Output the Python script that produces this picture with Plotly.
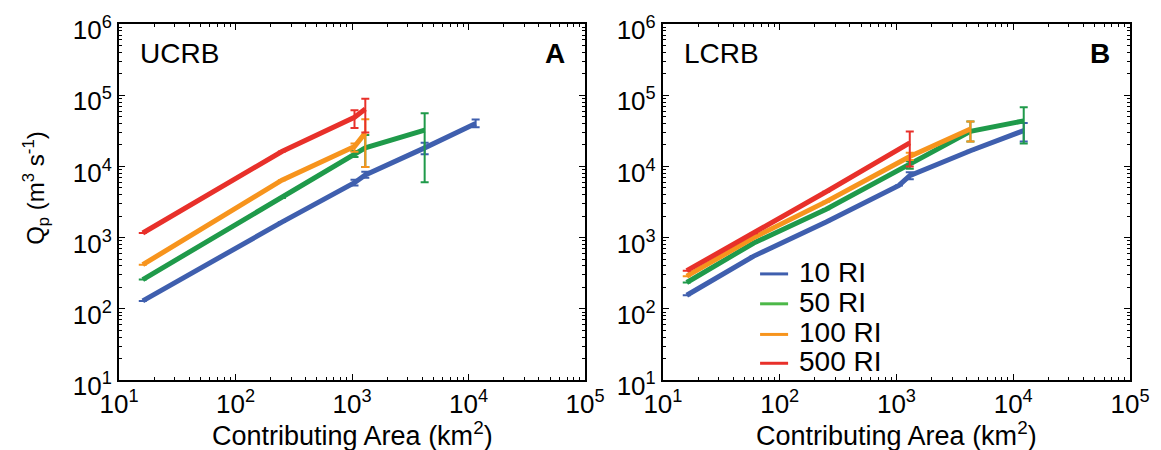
import plotly.graph_objects as go

# ---------------- data ----------------
series_names = ["10 RI", "50 RI", "100 RI", "500 RI"]
line_colors = {"10 RI": "#3f5fae", "50 RI": "#1f9a4a", "100 RI": "#f7941d", "500 RI": "#e8302a"}
legend_colors = {"10 RI": "#3f5fae", "50 RI": "#4cb848", "100 RI": "#f7941d", "500 RI": "#e8302a"}

# Panel A (UCRB)
a_area_10 = [16, 250, 1050, 1300, 4200, 11500]
a_q_10 = [129, 1650, 5900, 7600, 18200, 40000]
a_hi_10 = [None, None, 6500, 8400, 21400, 45700]
a_lo_10 = [None, None, 5400, 6900, 14800, 35500]

a_area_50 = [16, 250, 1050, 1300, 4200]
a_q_50 = [257, 3600, 14900, 18200, 32400]
a_hi_50 = [None, None, 16500, 27500, 56000]
a_lo_50 = [None, None, 13500, 9800, 6000]

a_area_100 = [16, 250, 1050, 1300]
a_q_100 = [417, 6400, 19000, 29600]
a_hi_100 = [None, None, 21000, 46000]
a_lo_100 = [None, None, 16000, 9800]

a_area_500 = [16, 250, 1050, 1300]
a_q_500 = [1160, 16200, 49000, 64000]
a_hi_500 = [None, None, 61600, 89000]
a_lo_500 = [None, None, 34600, 30000]

# Panel B (LCRB)
b_area_10 = [16, 60, 250, 1050, 1300, 4300, 12300]
b_q_10 = [155, 550, 1660, 5400, 7400, 16600, 31800]
b_hi_10 = [None, None, None, None, 8300, None, 40700]
b_lo_10 = [None, None, None, None, 6600, None, 22400]

b_area_50 = [16, 60, 250, 1300, 4300, 12300]
b_q_50 = [234, 840, 2500, 10500, 31000, 43600]
b_hi_50 = [None, None, None, 11800, 42700, 68000]
b_lo_50 = [None, None, None, 9300, 22400, 21000]

b_area_100 = [16, 60, 250, 1300, 4300]
b_q_100 = [287, 1000, 3200, 13800, 33600]
b_hi_100 = [None, None, None, 15500, 42700]
b_lo_100 = [None, None, None, 12300, 22400]

b_area_500 = [16, 60, 250, 1300]
b_q_500 = [343, 1150, 4400, 21400]
b_hi_500 = [None, None, None, 30900]
b_lo_500 = [None, None, None, 10000]

x_tickvals = [10, 100, 1000, 10000, 100000]
x_ticktext = ["10<sup>1</sup>", "10<sup>2</sup>", "10<sup>3</sup>", "10<sup>4</sup>", "10<sup>5</sup>"]
y_tickvals = [10, 100, 1000, 10000, 100000, 1000000]
y_ticktext = ["10<sup>1</sup>", "10<sup>2</sup>", "10<sup>3</sup>", "10<sup>4</sup>", "10<sup>5</sup>", "10<sup>6</sup>"]

panel_a = {
    "10 RI": (a_area_10, a_q_10, a_hi_10, a_lo_10),
    "50 RI": (a_area_50, a_q_50, a_hi_50, a_lo_50),
    "100 RI": (a_area_100, a_q_100, a_hi_100, a_lo_100),
    "500 RI": (a_area_500, a_q_500, a_hi_500, a_lo_500),
}
panel_b = {
    "10 RI": (b_area_10, b_q_10, b_hi_10, b_lo_10),
    "50 RI": (b_area_50, b_q_50, b_hi_50, b_lo_50),
    "100 RI": (b_area_100, b_q_100, b_hi_100, b_lo_100),
    "500 RI": (b_area_500, b_q_500, b_hi_500, b_lo_500),
}

FONT = "Liberation Sans, Arial, sans-serif"

fig = go.Figure()


def add_panel(panel, xa, ya):
    for name in series_names:
        x, y, hi, lo = panel[name]
        plus = [None if h is None else h - v for h, v in zip(hi, y)]
        minus = [None if l is None else v - l for l, v in zip(lo, y)]
        fig.add_trace(go.Scatter(
            x=x, y=y, mode="lines", name=name, showlegend=False,
            xaxis=xa, yaxis=ya,
            line=dict(color=line_colors[name], width=5),
            error_y=dict(type="data", symmetric=False, array=plus, arrayminus=minus,
                         color=line_colors[name], thickness=2, width=4),
        ))


add_panel(panel_a, "x", "y")
add_panel(panel_b, "x2", "y2")


def minor_vals(lo_exp, hi_exp):
    vals = []
    for e in range(lo_exp, hi_exp):
        for m in range(2, 10):
            vals.append(m * 10 ** e)
    return vals


def make_axis(tickvals, ticktext, rng, lo_exp, hi_exp):
    return dict(
        type="log", range=rng, showgrid=False, zeroline=False,
        showline=True, linecolor="black", linewidth=2, mirror="allticks",
        ticks="inside", ticklen=6, tickwidth=1, tickcolor="black",
        tickmode="array", tickvals=tickvals, ticktext=ticktext,
        ticklabeloverflow="allow", automargin=False,
        tickfont=dict(family=FONT, size=26, color="black"),
        minor=dict(ticks="inside", ticklen=3, tickcolor="black", tickwidth=1,
                   tickmode="array", tickvals=minor_vals(lo_exp, hi_exp), showgrid=False),
    )


xa = make_axis(x_tickvals, x_ticktext, [1, 5], 1, 5)
ya = make_axis(y_tickvals, y_ticktext, [1, 6], 1, 6)
ya["ticklabelshift"] = 6

# plot area: x 111..1122 px, y 16..372 px
leg_y = [0.303, 0.219, 0.133, 0.052]
annotations = [
    dict(text="UCRB", xref="x domain", yref="y domain", x=0.04, y=0.916,
         xanchor="left", yanchor="middle", showarrow=False, font=dict(size=28)),
    dict(text="<b>A</b>", xref="x domain", yref="y domain", x=0.962, y=0.916,
         xanchor="right", yanchor="middle", showarrow=False, font=dict(size=28)),
    dict(text="LCRB", xref="x2 domain", yref="y2 domain", x=0.04, y=0.916,
         xanchor="left", yanchor="middle", showarrow=False, font=dict(size=28)),
    dict(text="<b>B</b>", xref="x2 domain", yref="y2 domain", x=0.962, y=0.916,
         xanchor="right", yanchor="middle", showarrow=False, font=dict(size=28)),
    # axis titles
    dict(text="Contributing Area (km<sup>2</sup>)", xref="x domain", yref="paper",
         x=0.5, y=-0.153, xanchor="center", yanchor="middle", showarrow=False,
         font=dict(size=27)),
    dict(text="Contributing Area (km<sup>2</sup>)", xref="x2 domain", yref="paper",
         x=0.5, y=-0.153, xanchor="center", yanchor="middle", showarrow=False,
         font=dict(size=27)),
    dict(text="Q<sub>p</sub> (m<sup>3</sup> s<sup>-1</sup>)", xref="paper", yref="paper",
         x=-0.082, y=0.54, xanchor="center", yanchor="middle", textangle=-90,
         showarrow=False, font=dict(size=24)),
]
shapes = []
for name, yy in zip(series_names, leg_y):
    annotations.append(dict(text=name, xref="x2 domain", yref="y2 domain", x=0.287, y=yy,
                            xanchor="left", yanchor="middle", showarrow=False,
                            font=dict(size=28)))
    shapes.append(dict(type="line", xref="x2 domain", yref="y2 domain",
                       x0=0.208, x1=0.268, y0=yy - 0.005, y1=yy - 0.005,
                       line=dict(color=legend_colors[name], width=3)))

fig.update_layout(
    width=1161, height=450,
    margin=dict(l=111, r=39, t=16, b=78),
    paper_bgcolor="white", plot_bgcolor="white",
    font=dict(family=FONT, color="black"),
    xaxis=dict(xa, domain=[0, 0.461], anchor="y"),
    yaxis=dict(ya, domain=[0, 1], anchor="x"),
    xaxis2=dict(xa, domain=[0.538, 1], anchor="y2"),
    yaxis2=dict(ya, domain=[0, 1], anchor="x2"),
    showlegend=False,
    annotations=annotations,
    shapes=shapes,
)

fig.write_html("out.html")
